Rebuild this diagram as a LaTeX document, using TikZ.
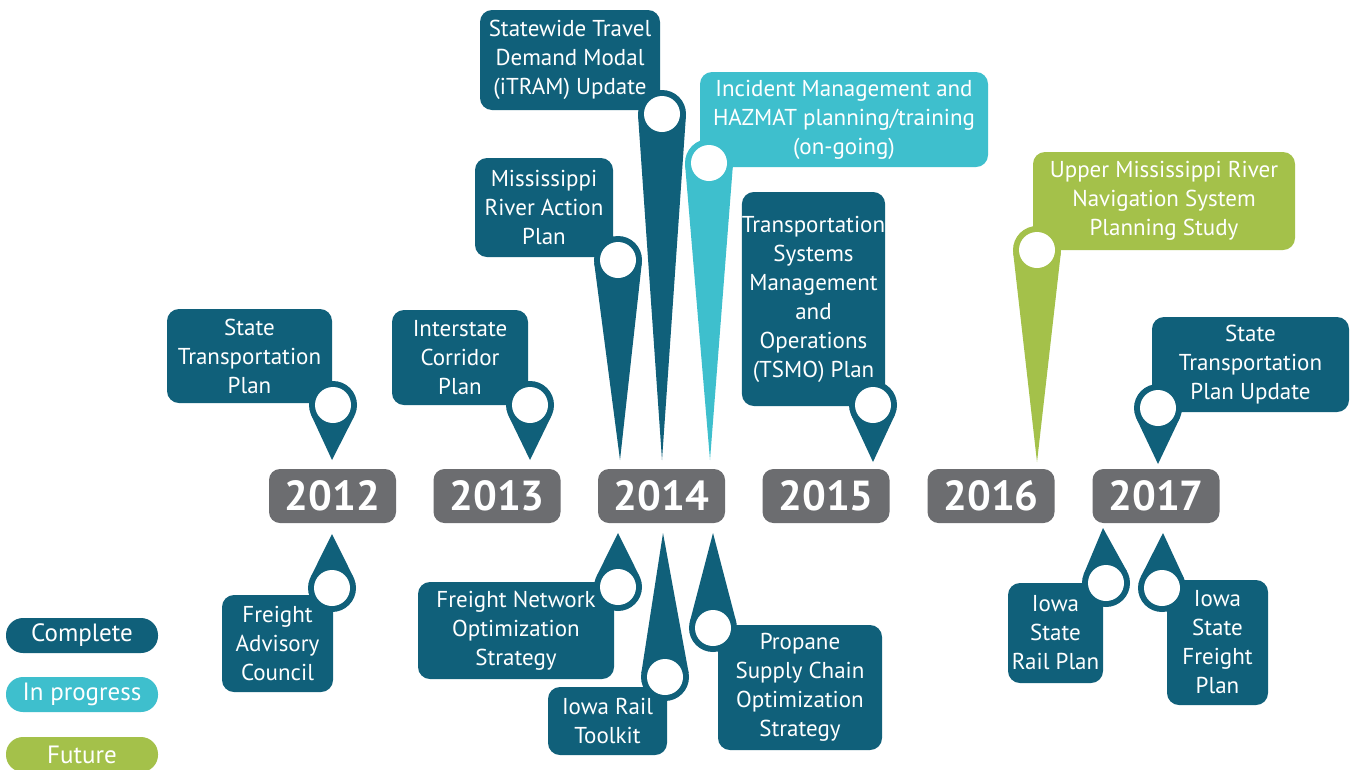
\documentclass[tikz,border=0pt]{standalone}
\usepackage{fontspec}
\setmainfont{PT Sans}
\usetikzlibrary{calc}
\definecolor{tealD}{RGB}{16,96,122}
\definecolor{cyanL}{RGB}{62,191,205}
\definecolor{greenF}{RGB}{164,193,74}
\definecolor{grayY}{RGB}{108,109,112}
\tikzset{
  box/.style={rounded corners=12pt, text=white, align=center, inner sep=0pt, outer sep=0pt,
    font=\fontsize{23}{29}\selectfont},
  yearbox/.style={fill=grayY, rounded corners=11pt, minimum width=127pt, minimum height=54pt,
    text=white, inner sep=0pt, font=\fontsize{42}{42}\selectfont\bfseries},
  ring/.style={circle, minimum size=48pt, inner sep=0pt, outer sep=0pt},
  hole/.style={circle, fill=white, minimum size=36pt, inner sep=0pt, outer sep=0pt},
  legendbox/.style={rounded corners=17pt, minimum width=152pt, minimum height=35pt,
    text=white, inner sep=0pt, font=\fontsize{25}{29}\selectfont}
}
\newcommand{\mkpin}[4]{%
  \node[ring, fill=#4] (#1) at (#2) {};
  \coordinate (#1tip) at (#3);
  \fill[#4] (#1tip) -- (tangent cs:node=#1,point={(#1tip)},solution=1) -- (#1.center)
     -- (tangent cs:node=#1,point={(#1tip)},solution=2) -- cycle;
  \node[hole] (#1hole) at (#2) {};
}
\begin{document}
\begin{tikzpicture}[x=1pt,y=-1pt]
\clip (0,0) rectangle (1351,769);
\fill[white] (0,0) rectangle (1351,769);

% year boxes
\node[yearbox] (y2012) at (332.5,496) {2012};
\node[yearbox] (y2013) at (497,496) {2013};
\node[yearbox] (y2014) at (661.5,496) {2014};
\node[yearbox] (y2015) at (826,496) {2015};
\node[yearbox] (y2016) at (991,496) {2016};
\node[yearbox] (y2017) at (1156,496) {2017};

% top items
\node[box, fill=tealD, minimum width=165pt, minimum height=94pt] (stp) at (249.5,356) {State\\Transportation\\Plan};
\mkpin{stpP}{333,405}{332,460}{tealD}

\node[box, fill=tealD, minimum width=136pt, minimum height=95pt] (icp) at (460,357.5) {Interstate\\Corridor\\Plan};
\mkpin{icpP}{530,405}{530,460}{tealD}

\node[box, fill=tealD, minimum width=138pt, minimum height=99pt] (mrap) at (544,207.5) {Mississippi\\River Action\\Plan};
\mkpin{mrapP}{618,260}{620,460}{tealD}

\node[box, fill=tealD, minimum width=180pt, minimum height=100pt] (stdm) at (570,60) {Statewide Travel\\Demand Modal\\(iTRAM) Update};
\mkpin{stdmP}{662,114}{662,460}{tealD}

\node[box, fill=cyanL, minimum width=288pt, minimum height=95pt] (imh) at (844,119.5) {Incident Management and\\HAZMAT planning/training\\(on-going)};
\mkpin{imhP}{709,163}{710,460}{cyanL}

\node[box, fill=tealD, minimum width=143pt, minimum height=214pt] (tsmo) at (813.5,299) {Transportation\\Systems\\Management\\and\\Operations\\(TSMO) Plan};
\mkpin{tsmoP}{873,405}{873,462}{tealD}

\node[box, fill=greenF, minimum width=262pt, minimum height=98pt] (umr) at (1164,201) {Upper Mississippi River\\Navigation System\\Planning Study};
\mkpin{umrP}{1037,250}{1037,462}{greenF}

\node[box, fill=tealD, minimum width=197pt, minimum height=95pt] (stpu) at (1250.5,364.5) {State\\Transportation\\Plan Update};
\mkpin{stpuP}{1158,408}{1158,464}{tealD}

% bottom items
\node[box, fill=tealD, minimum width=111pt, minimum height=97pt] (fac) at (277.5,643.5) {Freight\\Advisory\\Council};
\mkpin{facP}{332,588}{332,534}{tealD}

\node[box, fill=tealD, minimum width=196pt, minimum height=97pt] (fnos) at (516,630.5) {Freight Network\\Optimization\\Strategy};
\mkpin{fnosP}{618,587}{618,533}{tealD}

\node[box, fill=tealD, minimum width=119pt, minimum height=68pt] (irt) at (607.5,721) {Iowa Rail\\Toolkit};
\mkpin{irtP}{665,677}{663,533}{tealD}

\node[box, fill=tealD, minimum width=164pt, minimum height=125pt] (psco) at (800,687.5) {Propane\\Supply Chain\\Optimization\\Strategy};
\mkpin{pscoP}{713,628}{713,533}{tealD}

\node[box, fill=tealD, minimum width=95pt, minimum height=100pt] (isrp) at (1055.5,633) {Iowa\\State\\Rail Plan};
\mkpin{isrpP}{1106,583}{1103,528}{tealD}

\node[box, fill=tealD, minimum width=101pt, minimum height=125pt] (isfp) at (1217.5,642.5) {Iowa\\State\\Freight\\Plan};
\mkpin{isfpP}{1162,588}{1163,533}{tealD}

% legend
\node[legendbox, fill=tealD] (lgC) at (82,635.5) {Complete};
\node[legendbox, fill=cyanL] (lgP) at (82,694.5) {In progress};
\node[legendbox, fill=greenF] (lgF) at (82,754.5) {Future};
\end{tikzpicture}
\end{document}
